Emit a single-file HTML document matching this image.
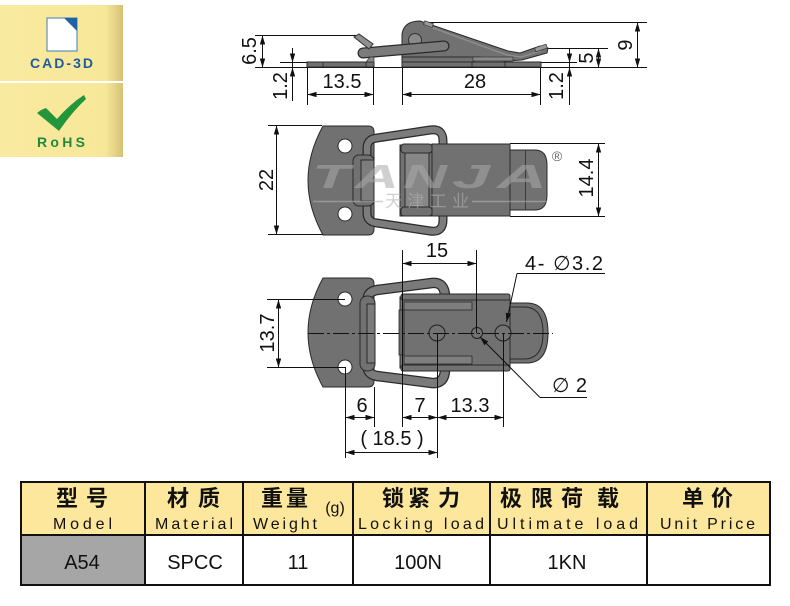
<!DOCTYPE html>
<html><head><meta charset="utf-8"><style>
html,body{margin:0;padding:0;background:#fff;width:790px;height:606px;overflow:hidden}
svg{display:block}
.d{font-family:"Liberation Sans","DejaVu Sans",sans-serif;font-size:20px;fill:#111}
.dl{stroke:#111;stroke-width:1;fill:none}
.m{fill:#717171;stroke:#2a2a2a;stroke-width:1}
.cn{font-family:"Liberation Sans","Noto Sans CJK SC",sans-serif;font-size:22px;font-weight:bold;fill:#111;text-anchor:middle}
.en{font-family:"Liberation Sans","DejaVu Sans",sans-serif;font-size:16px;fill:#111;text-anchor:middle}
.dv{font-family:"Liberation Sans","DejaVu Sans",sans-serif;font-size:20px;fill:#111;text-anchor:middle}
.wm{font-family:"Liberation Sans",sans-serif;font-size:33px;font-style:italic;font-weight:bold;fill:#a9a9a9;fill-opacity:0.55}
</style></head><body>
<svg width="790" height="606" viewBox="0 0 790 606" xmlns="http://www.w3.org/2000/svg">
<defs>
<marker id="ar" viewBox="0 0 10 6" refX="10" refY="3" markerWidth="9" markerHeight="5.4" orient="auto-start-reverse" markerUnits="userSpaceOnUse"><path d="M0,0L10,3L0,6z" fill="#111"/></marker>
<linearGradient id="bg" x1="0" x2="1" y1="0" y2="0"><stop offset="0" stop-color="#f8ea9f"/><stop offset="0.86" stop-color="#f7e799"/><stop offset="1" stop-color="#d6c176"/></linearGradient>
</defs>

<!-- Badges -->
<rect x="0" y="5" width="123" height="76" fill="url(#bg)"/>
<rect x="0" y="83" width="123" height="74" fill="url(#bg)"/>
<path d="M47,18H77V51H47Z" fill="#fff" stroke="#3f7db8" stroke-width="1"/>
<path d="M64,18H77V31Z" fill="#1f63a5"/>
<text x="30" y="68" font-family="Liberation Sans,sans-serif" font-weight="bold" font-size="14" fill="#1d5c9d" textLength="63" lengthAdjust="spacing">CAD-3D</text>
<path d="M37,113 Q42,109 46,108 L57,119 Q70,104 84,95 L86,99 Q72,112 59,131 Z" fill="#23953b"/>
<text x="37" y="147" font-family="Liberation Sans,sans-serif" font-weight="bold" font-size="14" fill="#23883a" textLength="48" lengthAdjust="spacing">RoHS</text>

<!-- ===== TOP (side view) ===== -->
<path class="dl" d="M255,35.5H357 M255,67.5H647 M280,62.5H307 M541,62.5H577 M543,48.5H608 M417,22.5H647 M307.5,67V105 M373.5,67V105 M402.5,67V105 M540.5,67V105"/>
<line class="dl" x1="262.5" y1="35.5" x2="262.5" y2="67.5" marker-start="url(#ar)" marker-end="url(#ar)"/>
<line class="dl" x1="307.5" y1="94.5" x2="373.5" y2="94.5" marker-start="url(#ar)" marker-end="url(#ar)"/>
<line class="dl" x1="402.5" y1="94.5" x2="540.5" y2="94.5" marker-start="url(#ar)" marker-end="url(#ar)"/>
<line class="dl" x1="598.5" y1="48.5" x2="598.5" y2="67.5" marker-start="url(#ar)" marker-end="url(#ar)"/>
<line class="dl" x1="637.5" y1="22.5" x2="637.5" y2="67.5" marker-start="url(#ar)" marker-end="url(#ar)"/>
<path class="dl" d="M292.5,48V101 M569.5,48V105"/>
<line class="dl" x1="292.5" y1="50" x2="292.5" y2="62.5" marker-end="url(#ar)"/>
<line class="dl" x1="292.5" y1="80" x2="292.5" y2="67.5" marker-end="url(#ar)"/>
<line class="dl" x1="569.5" y1="50" x2="569.5" y2="62.5" marker-end="url(#ar)"/>
<line class="dl" x1="569.5" y1="80" x2="569.5" y2="67.5" marker-end="url(#ar)"/>

<rect class="m" x="307" y="62" width="67" height="5" fill="#6b6b6b"/>
<path d="M323,62V67 M366,62V67" stroke="#333"/>
<rect class="m" x="402" y="62" width="139" height="5" fill="#6b6b6b"/>
<path d="M472,62V67 M505,62V67" stroke="#333"/>
<rect class="m" x="402" y="56" width="72" height="6" fill="#666"/>
<path class="m" d="M402,57 L402,34 Q404,21 420,21 L508,51 L520,53 L540,46 L548,48 L547,53 L522,60 L505,61 L480,57 Z"/>
<path d="M425,25 L507,55 M507,55 L521,57 L541,51" stroke="#8c8c8c" stroke-width="1.5" fill="none"/>
<rect x="424" y="22" width="9" height="4" fill="#999" stroke="#333" stroke-width="0.7" transform="rotate(19 428 24)"/>
<rect x="535" y="46" width="12" height="4" fill="#999" stroke="#333" stroke-width="0.7" transform="rotate(-18 541 48)"/>
<rect x="473" y="57" width="40" height="4" fill="#8a8a8a" stroke="#333" stroke-width="0.7"/>
<circle cx="415" cy="40" r="6.5" fill="#8a8a8a" stroke="#333"/>
<line x1="363" y1="53" x2="444" y2="46" stroke="#2a2a2a" stroke-width="11" stroke-linecap="round"/>
<line x1="363" y1="53" x2="444" y2="46" stroke="#7b7b7b" stroke-width="8.5" stroke-linecap="round"/>
<polygon points="354,37 359,34 373,44 369,49" fill="#8f8f8f" stroke="#333"/>
<polygon points="366,62 370,57 374,57 374,62" fill="#8a8a8a" stroke="#333" stroke-width="0.7"/>

<text class="d" text-anchor="middle" x="342" y="88">13.5</text>
<text class="d" text-anchor="middle" x="475" y="88">28</text>
<text class="d" text-anchor="middle" transform="translate(256,51) rotate(-90)">6.5</text>
<text class="d" text-anchor="middle" transform="translate(287,86) rotate(-90)">1.2</text>
<text class="d" text-anchor="middle" transform="translate(563,86) rotate(-90)">1.2</text>
<text class="d" text-anchor="middle" transform="translate(593,58) rotate(-90)">5</text>
<text class="d" text-anchor="middle" transform="translate(632,45) rotate(-90)">9</text>

<!-- ===== MIDDLE (top view) ===== -->
<path class="dl" d="M268,125.5H322 M268,234.5H325 M510,143.5H605 M510,216.5H605"/>
<line class="dl" x1="276.5" y1="125.5" x2="276.5" y2="234.5" marker-start="url(#ar)" marker-end="url(#ar)"/>
<line class="dl" x1="598.5" y1="143.5" x2="598.5" y2="216.5" marker-start="url(#ar)" marker-end="url(#ar)"/>

<path class="m" d="M323,126 H368 Q374,126 374,132 V229 Q374,235 368,235 H323 Q293,180.5 323,126 Z"/>
<circle cx="345" cy="146" r="7" fill="#fff" stroke="#2a2a2a"/>
<circle cx="345" cy="214" r="7" fill="#fff" stroke="#2a2a2a"/>
<path d="M367,160 V148 Q367,139 377,138 L430,130 Q443,128 443,141 V150 M367,200 V213 Q367,222 377,223 L430,231 Q443,233 443,220 V210" fill="none" stroke="#2a2a2a" stroke-width="9"/>
<path d="M367,160 V148 Q367,139 377,138 L430,130 Q443,128 443,141 V150 M367,200 V213 Q367,222 377,223 L430,231 Q443,233 443,220 V210" fill="none" stroke="#7c7c7c" stroke-width="6.5"/>
<rect class="m" x="353" y="155" width="21" height="51" rx="6"/>
<rect x="361" y="160" width="13" height="41" fill="#7d7d7d" stroke="#2a2a2a"/>
<rect class="m" x="400" y="145" width="33" height="71" fill="#6a6a6a"/>
<rect class="m" x="401" y="144" width="31" height="9" rx="3" fill="#808080"/>
<rect class="m" x="401" y="207" width="31" height="9" rx="3" fill="#808080"/>
<rect x="405" y="153" width="24" height="54" fill="#878787" stroke="#2a2a2a"/>
<rect class="m" x="432" y="144" width="78" height="72"/>
<path class="m" d="M510,150 H535 Q547,150 547,165 V195 Q547,210 535,210 H510 Z"/>
<line x1="525.5" y1="150" x2="525.5" y2="210" stroke="#3a3a3a"/>
<!-- watermark -->
<text class="wm" x="312" y="188" textLength="38" lengthAdjust="spacingAndGlyphs">T</text>
<text class="wm" x="355" y="188" textLength="44" lengthAdjust="spacingAndGlyphs">A</text>
<text class="wm" x="403" y="188" textLength="44" lengthAdjust="spacingAndGlyphs">N</text>
<text class="wm" x="452" y="188" textLength="38" lengthAdjust="spacingAndGlyphs">J</text>
<text class="wm" x="497" y="188" textLength="50" lengthAdjust="spacingAndGlyphs">A</text>
<path d="M313,201.5H383 M472,201.5H547" stroke="#b0b0b0" stroke-opacity="0.6" stroke-width="1.5"/>
<text x="427" y="207" font-family="Liberation Sans,Noto Sans CJK SC,sans-serif" font-size="17" fill="#b0b0b0" fill-opacity="0.6" text-anchor="middle" textLength="84" lengthAdjust="spacing">天津工业</text>
<text x="557" y="161" font-family="Liberation Sans,sans-serif" font-size="14" fill="#666" text-anchor="middle">®</text>

<text class="d" text-anchor="middle" transform="translate(273,180) rotate(-90)">22</text>
<text class="d" text-anchor="middle" transform="translate(593,178) rotate(-90)">14.4</text>

<!-- ===== BOTTOM (top view with holes) ===== -->
<path class="m" d="M323,278 H368 Q374,278 374,284 V381 Q374,387 368,387 H323 Q293,332.5 323,278 Z"/>
<circle cx="345" cy="299" r="7" fill="#fff" stroke="#2a2a2a"/>
<circle cx="345" cy="367" r="7" fill="#fff" stroke="#2a2a2a"/>
<path d="M368,302 Q366,292 377,290 L432,283 Q445,282 445,297 M368,364 Q366,374 377,376 L432,383 Q445,384 445,369" fill="none" stroke="#2a2a2a" stroke-width="10.5"/>
<path d="M368,302 Q366,292 377,290 L432,283 Q445,282 445,297 M368,364 Q366,374 377,376 L432,383 Q445,384 445,369" fill="none" stroke="#7a7a7a" stroke-width="8"/>
<rect class="m" x="360" y="296" width="15" height="75" rx="7"/>
<rect x="367" y="304" width="8" height="59" fill="#7b7b7b" stroke="#2a2a2a"/>
<rect class="m" x="400" y="297" width="110" height="71"/>
<rect class="m" x="401" y="294" width="109" height="6" rx="2" fill="#6a6a6a"/>
<rect class="m" x="401" y="365" width="109" height="6" rx="2" fill="#6a6a6a"/>
<rect x="404" y="302" width="68" height="8" fill="#7e7e7e" stroke="#2a2a2a" stroke-width="0.8"/>
<rect x="404" y="356" width="68" height="8" fill="#7e7e7e" stroke="#2a2a2a" stroke-width="0.8"/>
<rect x="399" y="310" width="5" height="45" fill="#666" stroke="#2a2a2a" stroke-width="0.8"/>
<path class="m" d="M510,303 H527 Q548,303 548,333 Q548,363 527,363 H510 Z"/>
<path d="M510,307 H524 Q543,307 543,333 Q543,359 524,359 H510" fill="none" stroke="#2a2a2a"/>
<circle cx="437" cy="333" r="8" fill="#737373" stroke="#1e1e1e"/>
<circle cx="477" cy="333" r="5.5" fill="#737373" stroke="#1e1e1e"/>
<circle cx="503" cy="333" r="8" fill="#737373" stroke="#1e1e1e"/>
<line x1="308" y1="333.5" x2="553" y2="333.5" stroke="#111" stroke-width="1" stroke-dasharray="16,3,3,3"/>

<path class="dl" d="M402.5,250V427 M476.5,250V333 M345.5,367V458 M374.5,387V427 M437.5,333V458 M503.5,333V427 M267,299.5H345 M267,367.5H345"/>
<line class="dl" x1="278.5" y1="299.5" x2="278.5" y2="367.5" marker-start="url(#ar)" marker-end="url(#ar)"/>
<line class="dl" x1="402.5" y1="263.5" x2="476.5" y2="263.5" marker-start="url(#ar)" marker-end="url(#ar)"/>
<line class="dl" x1="345.5" y1="417.5" x2="374.5" y2="417.5" marker-start="url(#ar)" marker-end="url(#ar)"/>
<line class="dl" x1="402.5" y1="417.5" x2="437.5" y2="417.5" marker-start="url(#ar)" marker-end="url(#ar)"/>
<line class="dl" x1="437.5" y1="417.5" x2="503.5" y2="417.5" marker-start="url(#ar)" marker-end="url(#ar)"/>
<line class="dl" x1="345.5" y1="452.5" x2="437.5" y2="452.5" marker-start="url(#ar)" marker-end="url(#ar)"/>
<path class="dl" d="M605,273.5H517"/>
<line class="dl" x1="517" y1="273.5" x2="506.5" y2="322" marker-end="url(#ar)"/>
<path class="dl" d="M587,397.5H540"/>
<line class="dl" x1="540" y1="397.5" x2="480" y2="337" marker-end="url(#ar)"/>

<text class="d" text-anchor="middle" x="437" y="257">15</text>
<text class="d" x="525" y="270" textLength="78" lengthAdjust="spacing">4- ∅3.2</text>
<text class="d" x="552" y="392" textLength="35" lengthAdjust="spacing">∅2</text>
<text class="d" text-anchor="middle" x="362" y="412">6</text>
<text class="d" text-anchor="middle" x="420" y="412">7</text>
<text class="d" text-anchor="middle" x="470" y="412">13.3</text>
<text class="d" text-anchor="middle" x="392" y="445">( 18.5 )</text>
<text class="d" text-anchor="middle" transform="translate(274,333) rotate(-90)">13.7</text>

<!-- ===== TABLE ===== -->
<rect x="21" y="482" width="749" height="53" fill="#fce79c"/>
<rect x="21" y="535" width="124" height="50" fill="#a6a6a6"/>
<rect x="21" y="482" width="749" height="103" fill="none" stroke="#111" stroke-width="2"/>
<path d="M21,535H770 M145,482V585 M243,482V585 M353,482V585 M490,482V585 M647,482V585" stroke="#111" stroke-width="2"/>

<text class="cn" x="67" y="506">型</text><text class="cn" x="97" y="506">号</text>
<text class="cn" x="178" y="506">材</text><text class="cn" x="209" y="506">质</text>
<text class="cn" x="272" y="506">重</text><text class="cn" x="297" y="506">量</text>
<text class="cn" x="393" y="506">锁</text><text class="cn" x="419" y="506">紧</text><text class="cn" x="449" y="506">力</text>
<text class="cn" x="511" y="506">极</text><text class="cn" x="542" y="506">限</text><text class="cn" x="572" y="506">荷</text><text class="cn" x="608" y="506">载</text>
<text class="cn" x="693" y="506">单</text><text class="cn" x="722" y="506">价</text>

<text class="en" x="82.5" y="529" textLength="59" lengthAdjust="spacing">Model</text>
<text class="en" x="194" y="529" textLength="78" lengthAdjust="spacing">Material</text>
<text class="en" x="285" y="529" textLength="64" lengthAdjust="spacing">Weight</text>
<text class="en" x="335" y="513" font-size="13">(g)</text>
<text class="en" x="421" y="529" textLength="126" lengthAdjust="spacing">Locking load</text>
<text class="en" x="567.5" y="529" textLength="141" lengthAdjust="spacing">Ultimate load</text>
<text class="en" x="707.5" y="529" textLength="95" lengthAdjust="spacing">Unit Price</text>

<text class="dv" x="82" y="569">A54</text>
<text class="dv" x="195" y="569">SPCC</text>
<text class="dv" x="298" y="569">11</text>
<text class="dv" x="418" y="569">100N</text>
<text class="dv" x="567" y="569">1KN</text>
</svg>
</body></html>
